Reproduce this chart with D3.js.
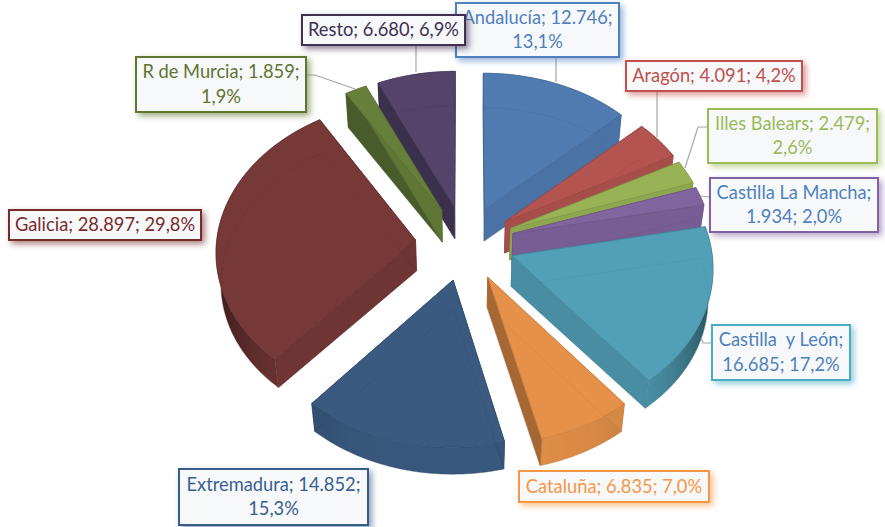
<!DOCTYPE html>
<html>
<head>
<meta charset="utf-8">
<style>
  html, body { margin: 0; padding: 0; background: #fff; }
  svg { display: block; }
</style>
</head>
<body>
<script src="https://cdnjs.cloudflare.com/ajax/libs/d3/7.8.5/d3.min.js"></script>
<script>
var regions = ["Andalucía", "Aragón", "Illes Balears", "Castilla La Mancha", "Castilla  y León",
  "Cataluña", "Extremadura", "Galicia", "R de Murcia", "Resto"];
var values = [12746, 4091, 2479, 1934, 16685, 6835, 14852, 28897, 1859, 6680];
var faceColors = ["#507bb0", "#b45450", "#98b255", "#80649e", "#52a0b8",
  "#e59149", "#3a5a80", "#773838", "#667f3a", "#54446a"];
var borderColors = ["#4f81bd", "#c0504d", "#9bbb59", "#8064a2", "#4bacc6",
  "#f79646", "#385d8a", "#772c2a", "#5f7530", "#403152"];
var textColors = ["#4f81bd", "#c0504d", "#9bbb59", "#4f81bd", "#4f81bd",
  "#f79646", "#376092", "#772c2a", "#5f7530", "#403152"];

function buildIt () {

  var w = 885;
  var h = 527;
  var cx = 465;
  var cy = 243;
  var explode = 0.25;
  var persp = 0.07;   // how much the back of the pie shrinks
  var depth = 31;

  var svg = d3.select("body")
    .append("svg")
    .attr("width", w)
    .attr("height", h);

  var defs = svg.append("defs");

  var xScale = d3.scaleLinear().domain([-1, 1]).range([cx - 199, cx + 199]);
  var yScale = d3.scaleLinear().domain([-1, 1]).range([cy + 150, cy - 150]);

  var total = d3.sum(values);
  var locale = d3.formatLocale({ decimal: ",", thousands: ".", grouping: [3], currency: ["", ""] });
  var fmtVal = locale.format(",d");
  var fmtPct = locale.format(".1%");

  var arcs = d3.pie().sort(null).value(function (d) { return d; })(values);

  // ground plane point -> screen, z 0 is the top of the slab and z 1 the bottom
  function project(px, py, z) {
    var k = 1 + persp * py;
    var s = 1 - 0.02 * z;
    return [
      cx + s * (xScale(px / k) - cx),
      cy + s * (yScale(py / k) - cy) + depth * z
    ];
  }

  function slicePoint(d, a, r, z) {
    var mid = (d.startAngle + d.endAngle) / 2;
    return project(
      explode * Math.sin(mid) + r * Math.sin(a),
      explode * Math.cos(mid) + r * Math.cos(a),
      z);
  }

  function arcAngles(d) {
    var n = Math.max(4, Math.ceil((d.endAngle - d.startAngle) / 0.012));
    return d3.range(n + 1).map(function (i) {
      return d.startAngle + (d.endAngle - d.startAngle) * i / n;
    });
  }

  function outline(d, z) {
    var pts = [slicePoint(d, 0, 0, z)];
    arcAngles(d).forEach(function (a) { pts.push(slicePoint(d, a, 1, z)); });
    return pts;
  }

  var closed = d3.line().curve(d3.curveLinearClosed);
  var open = d3.line();

  function shade(color, f) {
    var c = d3.rgb(color);
    return d3.rgb(c.r * f, c.g * f, c.b * f).formatHex();
  }

  function rimShade(a) {
    return 0.97 - 0.55 * Math.pow(Math.abs(Math.sin(a)), 4);
  }

  // rim gets darker towards the sides, only the front half is ever seen
  function rimFill(d) {
    var col = faceColors[d.index];
    var front = arcAngles(d).filter(function (a) { return Math.cos(a) <= 0; });
    if (front.length < 2) return shade(col, 0.9);
    var x0 = slicePoint(d, front[0], 1, 0)[0];
    var x1 = slicePoint(d, front[front.length - 1], 1, 0)[0];
    var id = "rim" + d.index;
    var grad = defs.append("linearGradient")
      .attr("id", id)
      .attr("gradientUnits", "userSpaceOnUse")
      .attr("x1", x0).attr("y1", 0)
      .attr("x2", x1).attr("y2", 0);
    front.forEach(function (a) {
      grad.append("stop")
        .attr("offset", (slicePoint(d, a, 1, 0)[0] - x0) / (x1 - x0))
        .attr("stop-color", shade(col, rimShade(a)));
    });
    return "url(#" + id + ")";
  }

  // back slices first
  var order = arcs.slice().sort(function (a, b) {
    return Math.cos((b.startAngle + b.endAngle) / 2) - Math.cos((a.startAngle + a.endAngle) / 2);
  });

  /* ===== SLICES =====*/

  order.forEach(function (d) {
    var col = faceColors[d.index];
    var g = svg.append("g");

    // outer rim
    var ang = arcAngles(d);
    var rim = ang.map(function (a) { return slicePoint(d, a, 1, 0); })
      .concat(ang.slice().reverse().map(function (a) { return slicePoint(d, a, 1, 1); }));
    g.append("path")
      .attr("d", closed(rim))
      .attr("fill", rimFill(d))
      .attr("stroke", shade(col, 0.85))
      .attr("stroke-opacity", 0.5)
      .attr("stroke-width", 0.6);

    // radial walls
    [[d.startAngle, -1], [d.endAngle, 1]].forEach(function (wall) {
      var nx = wall[1] * Math.cos(wall[0]);
      var f = nx < 0 ? (Math.cos(wall[0]) < -0.9 || Math.cos(wall[0]) > 0 ? 0.72 : 0.88) : 0.93;
      var quad = [slicePoint(d, 0, 0, 0), slicePoint(d, wall[0], 1, 0),
        slicePoint(d, wall[0], 1, 1), slicePoint(d, 0, 0, 1)];
      g.append("path")
        .attr("d", closed(quad))
        .attr("fill", shade(col, f))
        .attr("stroke", shade(col, f * 0.95))
        .attr("stroke-width", 0.6);
    });

    // top face
    g.append("path")
      .attr("d", closed(outline(d, 0)))
      .attr("fill", col)
      .attr("stroke", shade(col, 0.88))
      .attr("stroke-width", 0.8)
      .attr("stroke-linejoin", "round");

    // hidden edge of the bottom shows faintly through the face
    g.append("path")
      .attr("d", closed(outline(d, 1)))
      .attr("fill", "none")
      .attr("stroke", shade(col, 0.8))
      .attr("stroke-opacity", 0.3)
      .attr("stroke-width", 0.8);
  });

  /* ===== LABELS =====*/

  // box left, top, right, bottom, where the line breaks, leader line
  var layout = [
    { box: [456, 3, 619, 57], brk: "value", lead: [[556, 57], [556, 82]] },
    { box: [626, 61, 802, 91], brk: "", lead: [[657, 91], [657, 137]] },
    { box: [708, 109, 877, 163], brk: "value", lead: [[708, 127], [698, 127], [685, 168]] },
    { box: [710, 178, 878, 232], brk: "name", lead: [[710, 197], [700, 196]] },
    { box: [712, 325, 850, 380], brk: "name", lead: [[712, 343], [703, 343], [701, 338]] },
    { box: [519, 471, 709, 502], brk: "", lead: null },
    { box: [179, 469, 368, 525], brk: "value", lead: null },
    { box: [9, 210, 201, 240], brk: "", lead: null },
    { box: [136, 57, 306, 112], brk: "value", lead: [[306, 75], [315, 75], [355, 89]] },
    { box: [302, 15, 465, 45], brk: "", lead: [[416, 45], [416, 72]] }
  ];

  layout.forEach(function (l) {
    if (l.lead) {
      svg.append("path")
        .attr("d", open(l.lead))
        .attr("fill", "none")
        .attr("stroke", "#a6a6a6")
        .attr("stroke-width", 1.2);
    }
  });

  layout.forEach(function (l, i) {
    var name = regions[i] + ";";
    var val = fmtVal(values[i]) + ";";
    var pct = fmtPct(values[i] / total);
    var lines;
    if (l.brk === "value") lines = [name + " " + val, pct];
    else if (l.brk === "name") lines = [name, val + " " + pct];
    else lines = [name + " " + val + " " + pct];

    var g = svg.append("g");
    g.append("rect")
      .attr("x", l.box[0])
      .attr("y", l.box[1])
      .attr("width", l.box[2] - l.box[0])
      .attr("height", l.box[3] - l.box[1])
      .attr("fill", "#f7f8fa")
      .attr("stroke", borderColors[i])
      .attr("stroke-width", 2)
      .style("filter", "drop-shadow(3px 3px 3px " + borderColors[i] + "99)");

    var mx = (l.box[0] + l.box[2]) / 2;
    var my = (l.box[1] + l.box[3]) / 2;
    lines.forEach(function (t, j) {
      g.append("text")
        .text(t)
        .attr("x", mx)
        .attr("y", my + (j - (lines.length - 1) / 2) * 24.5 + 6)
        .attr("text-anchor", "middle")
        .attr("font-family", "Lato, 'Open Sans', sans-serif")
        .attr("font-size", "18.3px")
        .attr("fill", textColors[i])
        .style("white-space", "pre");
    });
  });
}

buildIt();
</script>
</body>
</html>
